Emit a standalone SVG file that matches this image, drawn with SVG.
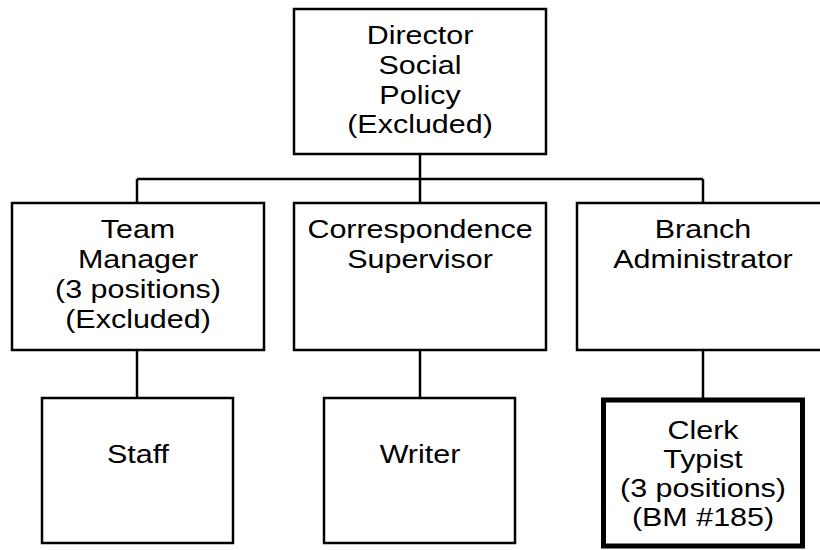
<svg xmlns="http://www.w3.org/2000/svg" width="820" height="550" viewBox="0 0 820 550">
<style>
.box{fill:#fff;stroke:#000;stroke-width:2.5}
.thick{fill:#fff;stroke:#000;stroke-width:5}
.conn line{stroke:#000;stroke-width:2.5}
.t{font-family:"Liberation Sans",Arial,sans-serif;font-size:26.5px;fill:#000;text-anchor:middle}
</style>
<rect width="820" height="550" fill="#fff"/>
<g id="connectors" class="conn">
<line x1="420" y1="154" x2="420" y2="203"/>
<line x1="137" y1="179" x2="703" y2="179"/>
<line x1="137" y1="179" x2="137" y2="203"/>
<line x1="703" y1="179" x2="703" y2="203"/>
<line x1="137" y1="350" x2="137" y2="398"/>
<line x1="420" y1="350" x2="420" y2="398"/>
<line x1="703" y1="350" x2="703" y2="400"/>
</g>
<g id="director">
<rect class="box" x="294" y="9" width="252" height="145"/>
<text class="t" transform="translate(420 0) scale(1.15 1)"><tspan x="0" y="44">Director</tspan><tspan x="0" y="74">Social</tspan><tspan x="0" y="104">Policy</tspan><tspan x="0" y="133">(Excluded)</tspan></text>
</g>
<g id="team-manager">
<rect class="box" x="12" y="203" width="252" height="147"/>
<text class="t" transform="translate(138 0) scale(1.15 1)"><tspan x="0" y="238">Team</tspan><tspan x="0" y="268">Manager</tspan><tspan x="0" y="298">(3 positions)</tspan><tspan x="0" y="328">(Excluded)</tspan></text>
</g>
<g id="correspondence-supervisor">
<rect class="box" x="294" y="203" width="252" height="147"/>
<text class="t" transform="translate(420 0) scale(1.15 1)"><tspan x="0" y="238">Correspondence</tspan><tspan x="0" y="268">Supervisor</tspan></text>
</g>
<g id="branch-administrator">
<rect class="box" x="577" y="203" width="252" height="147"/>
<text class="t" transform="translate(703 0) scale(1.15 1)"><tspan x="0" y="238">Branch</tspan><tspan x="0" y="268">Administrator</tspan></text>
</g>
<g id="staff">
<rect class="box" x="42" y="398" width="191" height="145"/>
<text class="t" transform="translate(138 0) scale(1.15 1)"><tspan x="0" y="463">Staff</tspan></text>
</g>
<g id="writer">
<rect class="box" x="324" y="398" width="191" height="145"/>
<text class="t" transform="translate(420 0) scale(1.15 1)"><tspan x="0" y="463">Writer</tspan></text>
</g>
<g id="clerk-typist">
<rect class="thick" x="603.5" y="400" width="199" height="146"/>
<text class="t" transform="translate(703 0) scale(1.15 1)"><tspan x="0" y="439">Clerk</tspan><tspan x="0" y="468">Typist</tspan><tspan x="0" y="497">(3 positions)</tspan><tspan x="0" y="526">(BM #185)</tspan></text>
</g>
</svg>
